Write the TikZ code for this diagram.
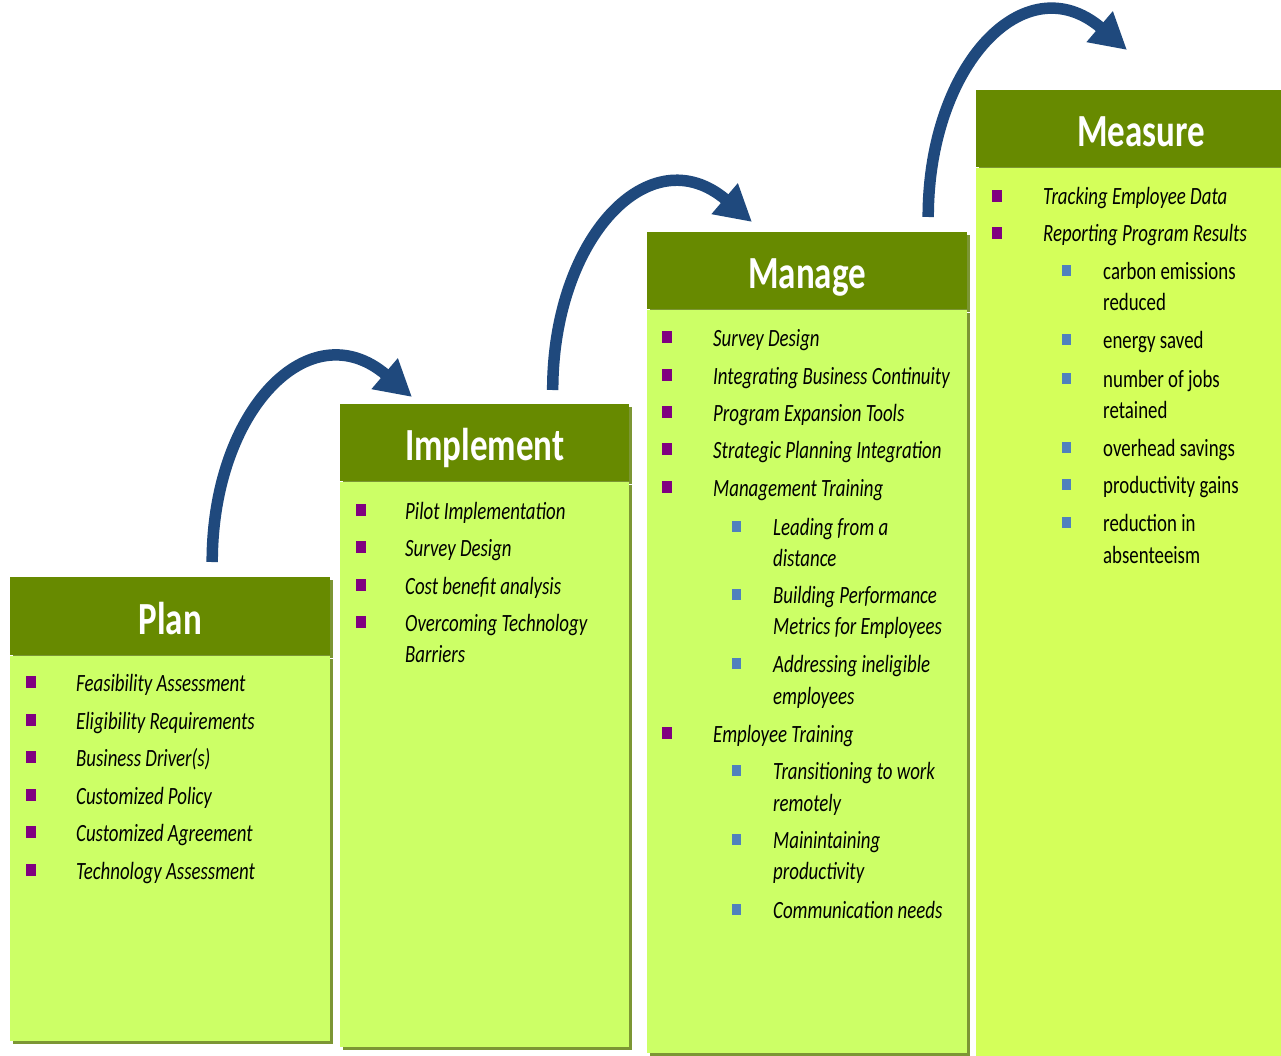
\documentclass[tikz,border=0pt]{standalone}
\usepackage{fontspec}
\setmainfont{Carlito}[FakeStretch=0.76]
\usepackage{tikz}
\usetikzlibrary{arrows.meta,shadows,positioning}
\definecolor{headgreen}{RGB}{103,138,0}
\definecolor{limefill}{RGB}{204,255,102}
\definecolor{limefillb}{RGB}{212,255,90}
\definecolor{shade}{RGB}{124,150,52}
\definecolor{arrowblue}{RGB}{31,73,125}
\definecolor{mainbullet}{RGB}{128,0,128}
\definecolor{subbullet}{RGB}{79,129,189}

\begin{document}
\begin{tikzpicture}[x=1pt, y=-1pt,
    stagehead/.style={rectangle, fill=headgreen, text=white, inner sep=0pt, anchor=north west, text height=36pt, text depth=0pt, font=\fontsize{46}{50}\selectfont\bfseries, drop shadow={shadow xshift=3pt, shadow yshift=-3pt, fill=shade, opacity=1}},
    stagebody/.style={rectangle, fill=limefill, inner sep=0pt, drop shadow={shadow xshift=3pt, shadow yshift=-3pt, fill=shade, opacity=1}},
    mainbox/.style={rectangle, fill=mainbullet, minimum width=10pt, minimum height=12pt, inner sep=0pt},
    subbox/.style={rectangle, fill=subbullet, minimum width=9pt, minimum height=11pt, inner sep=0pt},
    itemtext/.style={anchor=base west, inner sep=0pt, font=\fontsize{24.8}{28}\selectfont\itshape},
    plaintext/.style={anchor=base west, inner sep=0pt, font=\fontsize{24.8}{28}\selectfont},
    bigarrow/.style={draw=arrowblue, line width=11.5pt, -{Triangle[length=36pt, width=38pt]}}
]
    \useasboundingbox[fill=white] (0,0) rectangle (1281,1056);

    % stages
    \node[stagehead, minimum width=320pt, minimum height=78pt] (plan-head) at (10,577) {Plan};
    \node[stagebody, minimum width=320pt, minimum height=385pt, below=0pt of plan-head] (plan-body) {};
    \node[stagehead, minimum width=289pt, minimum height=77pt] (impl-head) at (340,404) {Implement};
    \node[stagebody, minimum width=289pt, minimum height=565pt, below=0pt of impl-head] (impl-body) {};
    \node[stagehead, minimum width=320pt, minimum height=77pt] (man-head) at (647,232) {Manage};
    \node[stagebody, minimum width=320pt, minimum height=743pt, below=0pt of man-head] (man-body) {};
    \node[stagehead, minimum width=330pt, minimum height=77pt] (meas-head) at (976,90) {Measure};
    \node[stagebody, fill=limefillb, minimum width=330pt, minimum height=910pt, below=0pt of meas-head] (meas-body) {};

    % Plan
    \foreach \y [count=\i] in {683,721,758,796,833,871}
        \node[mainbox] (plan-b\i) at (31,\y-1) {};
    \foreach \y/\t [count=\i] in {683/Feasibility Assessment, 721/Eligibility Requirements, 758/Business Driver(s),
        796/Customized Policy, 833/Customized Agreement, 871/Technology Assessment}
        \node[itemtext] (plan-t\i) at (76,\y+8) {\t};

    % Implement
    \foreach \y [count=\i] in {511,548,586,623}
        \node[mainbox] (impl-b\i) at (361,\y-1) {};
    \foreach \y/\t [count=\i] in {511/Pilot Implementation, 548/Survey Design, 586/Cost benefit analysis,
        623/Overcoming Technology, 654/Barriers}
        \node[itemtext] (impl-t\i) at (405,\y+8) {\t};

    % Manage
    \foreach \y [count=\i] in {338,376,413,450,488,734}
        \node[mainbox] (man-b\i) at (667,\y-1) {};
    \foreach \y/\t [count=\i] in {338/Survey Design, 376/Integrating Business Continuity, 413/Program Expansion Tools,
        450/Strategic Planning Integration, 488/Management Training, 734/Employee Training}
        \node[itemtext] (man-t\i) at (713,\y+8) {\t};
    \foreach \y [count=\i] in {527,595,664,771,840,910}
        \node[subbox] (man-s\i) at (736,\y-1) {};
    \foreach \y/\t [count=\i] in {527/Leading from a, 558/distance, 595/Building Performance, 626/Metrics for Employees,
        664/Addressing ineligible, 696/employees, 771/Transitioning to work, 803/remotely,
        840/Mainintaining, 871/productivity, 910/Communication needs}
        \node[itemtext] (man-u\i) at (773,\y+8) {\t};

    % Measure
    \foreach \y [count=\i] in {197,234}
        \node[mainbox] (meas-b\i) at (997,\y-1) {};
    \foreach \y/\t [count=\i] in {197/Tracking Employee Data, 234/Reporting Program Results}
        \node[itemtext] (meas-t\i) at (1043,\y+8) {\t};
    \foreach \y [count=\i] in {272,340,379,448,485,523}
        \node[subbox] (meas-s\i) at (1066,\y-1) {};
    \foreach \y/\t [count=\i] in {272/carbon emissions, 303/reduced, 340/energy saved, 379/number of jobs, 410/retained,
        448/overhead savings, 485/productivity gains, 523/reduction in, 555/absenteeism}
        \node[plaintext] (meas-u\i) at (1103,\y+8) {\t};

    % arrows between stages
    \coordinate (arr1-start) at ([xshift=42pt, yshift=15pt]plan-head.north);
    \coordinate (arr1-end) at ([xshift=72pt, yshift=7pt]impl-head.north west);
    \coordinate (arr2-start) at ([xshift=68pt, yshift=14pt]impl-head.north);
    \coordinate (arr2-end) at ([xshift=105pt, yshift=10pt]man-head.north west);
    \coordinate (arr3-start) at ([xshift=121pt, yshift=15pt]man-head.north);
    \coordinate (arr3-end) at ([xshift=151pt, yshift=40pt]meas-head.north west);
    \foreach \n in {1,2,3}
        \draw[bigarrow] (arr\n-start) .. controls +(0,-152) and +(-102,-87) .. (arr\n-end);
\end{tikzpicture}
\end{document}
